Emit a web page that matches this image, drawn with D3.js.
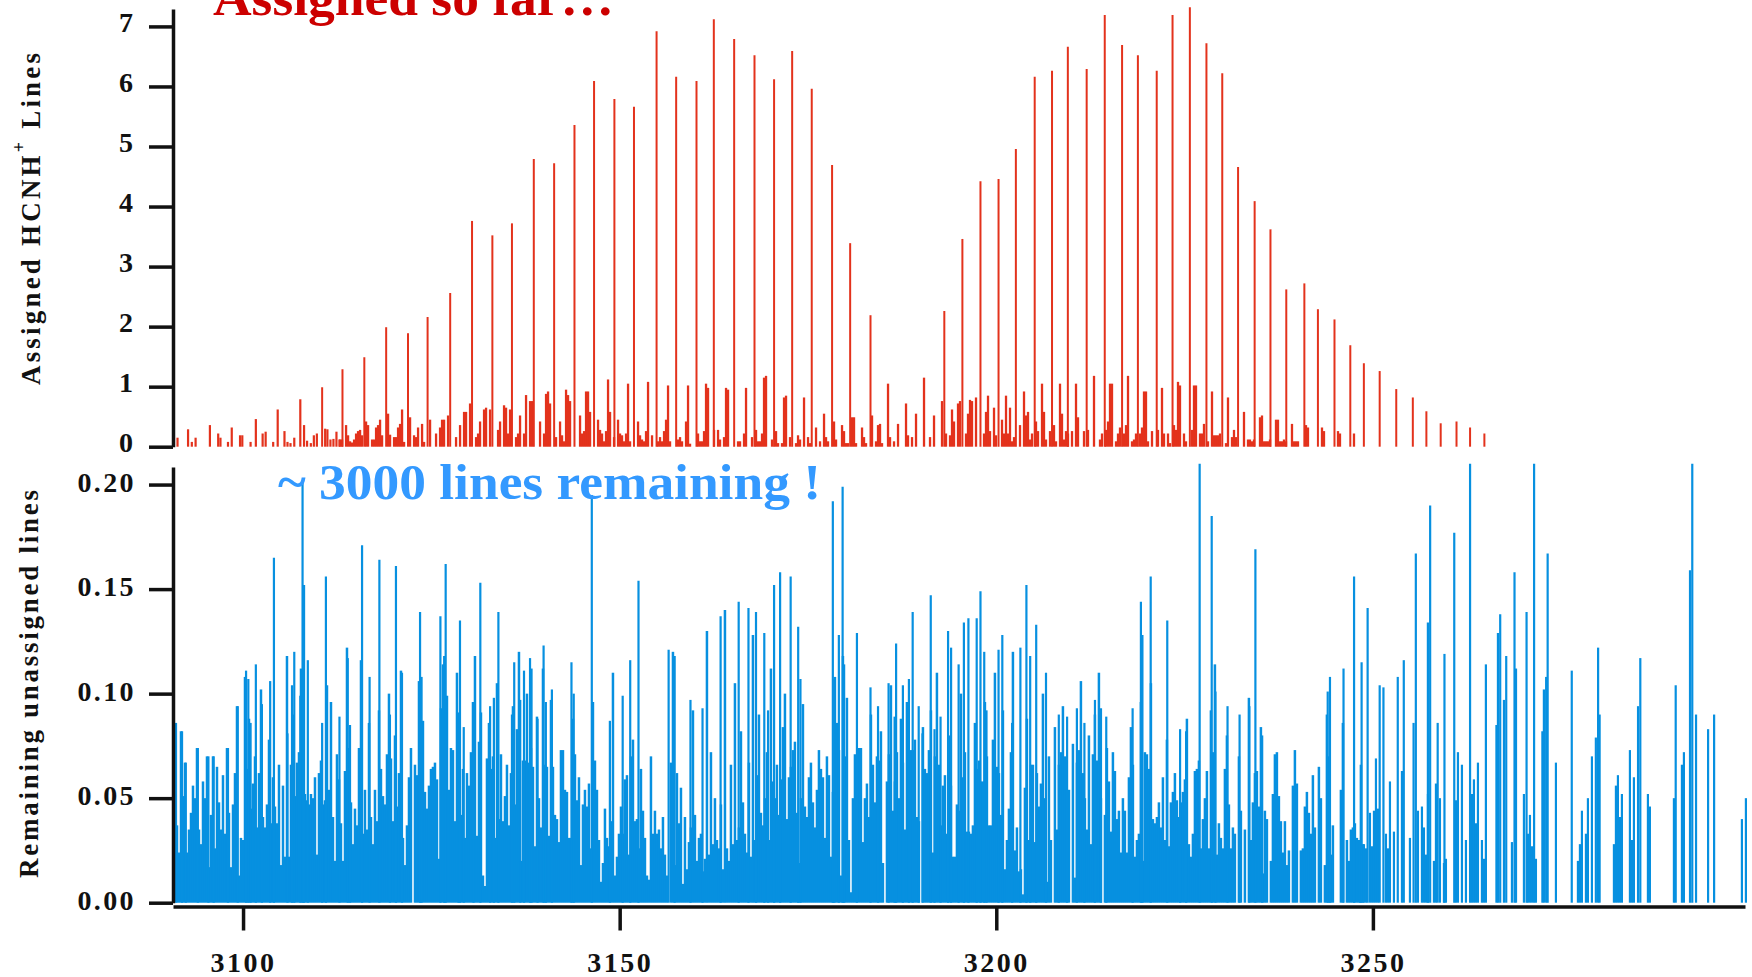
<!DOCTYPE html>
<html>
<head>
<meta charset="utf-8">
<script src="https://cdn.jsdelivr.net/npm/d3@7"></script>
<style>
  html, body { margin: 0; padding: 0; background: #fff; overflow: hidden; }
  text { font-family: "Liberation Serif", serif; font-weight: bold; fill: #111; }
</style>
</head>
<body>
<div id="chart"></div>
<script>
// assigned lines, the strong ladder
const strongX = [3110.5,3113.2,3116.1,3119,3121.9,3124.5,3127.5,3130.4,3133.1,3135.7,3138.6,3141.3,3144,3146.6,3149.3,3151.9,3154.9,3157.5,3160.2,3162.5,3165.2,3167.9,3170.5,3172.9,3175.5,3178.2,3180.6,3183.3,
  3193.1,3195.5,3197.9,3200.3,3202.6,3205.1,3207.4,3209.5,3212,3214.4,3216.7,3218.8,3221.3,3223.4,3225.7,3227.9,3230,3232.1,3234.3,3236.4,3238.5,3240.9,3242.7,3244.9,3247,3248.8,3250.9,3253.1,3255.3,3257.1,3259,3261.1,3262.9,3264.8];
const strongY = [0.99,1.29,1.49,1.99,1.89,2.16,2.56,3.76,3.52,3.72,4.79,4.72,5.36,6.09,5.79,5.66,6.92,6.16,6.09,7.12,6.79,6.52,6.12,6.59,5.96,4.69,3.39,2.19,
  2.26,3.46,4.42,4.46,4.96,6.16,6.26,6.66,6.29,7.19,6.69,6.52,6.26,7.19,7.32,6.72,6.22,4.66,4.09,3.62,2.62,2.72,2.29,2.12,1.69,1.39,1.26,0.96,0.82,0.59,0.39,0.42,0.32,0.22];

// assigned lines, weak ones below 3113
const weakX = [3091.3,3092.7,3093.2,3093.7,3095.6,3096.7,3097,3098,3098.5,3099.6,3099.9,3101,3101.7,3102.6,3103,3104,3104.6,3105.5,3105.9,3106.3,3106.8,3107.6,3108.1,3108.5,3109,3109.4,3109.8,3110.9,3111.2,3111.6,3112,3112.4,3112.8];
const weakY = [0.15,0.29,0.08,0.15,0.36,0.22,0.15,0.08,0.32,0.19,0.19,0.08,0.46,0.22,0.25,0.08,0.62,0.26,0.08,0.06,0.15,0.79,0.36,0.1,0.06,0.19,0.22,0.3,0.29,0.12,0.13,0.25,0.12];

// assigned lines above 3113, given as slot number on the 0.2655 cm-1 read-out grid
const slotStart = 3112.88, slotWidth = 0.2655;
const weakSlot = [0,1,3,4,5,6,7,8,9,10,11,13,14,16,17,18,19,20,21,24,25,27,28,29,30,31,32,35,37,38,39,41,42,45,48,50,51,52,54,58,60,62,63,65,68,69,70,72,73,75,79,80,82,83,84,85,88,89,90,92,93,95,96,100,102,103,104,105,108,110,111,112,113,114,115,120,121,122,123,124,125,129,130,131,132,133,134,135,137,139,140,141,142,143,144,145,149,150,151,152,153,154,156,159,160,161,162,163,164,165,169,170,171,173,174,175,179,180,181,182,183,184,187,189,190,192,193,194,199,
  200,202,203,206,208,209,210,211,212,213,216,218,219,221,222,223,225,228,229,230,232,234,235,238,240,242,243,244,247,248,251,252,253,254,256,257,258,261,262,263,266,268,269,270,271,274,275,277,279,283,284,286,288,292,295,297,301,303,305,306,307,309,310,313,314,315,316,318,322,323,324,325,327,328,331,332,333,334,335,336,337,340,342,343,344,345,346,348,349,351,352,353,355,357,358,360,361,362,363,364,366,368,369,372,374,377,
  380,381,383,384,385,386,388,389,390,392,393,394,396,397,398,400,401,402,403,404,406,409,411,412,414,415,417,418,419,420,422,423,426,427,428,430,431,432,434,436,437,438,439,440,443,444,446,447,448,452,454,455,456,457,460,461,462,463,464,465,468,469,470,471,472,473,476,477,478,479,483,484,491,492,499,500,507];
const weakLevel = [.12,.12,.36,.19,.09,.07,.12,.22,.26,.28,.19,.42,.36,.12,.12,.32,.36,.45,.19,.55,.2,.16,.16,.32,.38,.62,.08,.49,.19,.16,.32,.38,.08,.45,.22,.32,.45,.45,.52,.16,.36,.58,.58,.72,.16,.22,.42,.62,.65,.62,.28,.42,.69,.65,.22,.62,.16,.22,.52,.22,.86,.76,.76,.42,.22,.88,.92,.72,.16,.42,.19,.09,.95,.86,.76,.52,.22,.26,.92,.92,.58,.45,.28,.22,.09,.26,1.12,.58,.16,.45,.22,.19,.09,.22,1.05,.09,.42,.19,.12,.09,.26,1.08,.19,.09,.16,.09,.26,.45,1.02,.09,.12,.16,.09,.42,1.02,.05,.22,.09,.09,.26,1.05,.98,.28,.28,.12,.16,.98,.95,.09,
  .09,.22,.98,.16,.28,.09,.09,.22,1.15,1.18,.12,.26,.06,.06,.82,.85,.16,.06,.19,.12,.82,.16,.06,.32,.09,.55,.16,.09,.42,.12,.36,.26,.06,.06,.49,.49,.06,.32,.16,.06,.52,.09,.36,.38,.06,1.05,.16,.09,.38,.72,.19,.16,.55,1.15,.16,.52,.76,.22,.19,.62,.42,.72,.76,.22,.55,.78,.76,.82,.22,.58,.85,.26,.65,.19,.45,.22,.85,.22,.65,.09,.16,.36,.92,.52,.58,.12,.22,.42,.26,1.05,.58,.12,.26,.36,.09,1.05,.55,.12,.26,.22,.26,1.05,.49,.26,.28,1.18,
  .12,.22,.28,.42,1.05,1.05,.09,.22,.32,.22,.36,1.18,.09,.12,.22,.22,.32,.92,.92,.09,.26,.28,.98,.22,.22,.06,.36,.28,1.08,1.02,.22,.09,.28,1.02,1.02,.22,.22,.38,.09,.92,.19,.19,.19,.22,.06,.82,.16,.28,.16,.58,.12,.12,.09,.12,.49,.52,.09,.09,.09,.12,.45,.45,.09,.09,.12,.09,.38,.09,.09,.09,.36,.32,.32,.26,.26,.22,.22];

// remaining lines, the tall ones
const tallX = [3091.1,3091.9,3092.4,3094,3095.4,3096.1,3098,3099.3,3100.4,3100.7,3101,3101.7,3102.5,3103.6,3104.1,3105.9,3106.5,3106.8,3107.6,3107.9,3108.1,3108.6,3110.5,3111,3112.8,3113.9,3114.2,3115.8,3116.8,3118.1,3119.5,3120.3,3121.1,3123.5,3123.7,3126.2,3126.7,3126.9,3128.6,3128.8,3129.3,3130.6,3131.5,3132.8,3133.3,3133.9,3135.7,3136,3136.8,3137.3,3138.1,3138.3,3139.1,3139.9,3140.2,3141,3143.6,3143.9,3146.3,
  3148.7,3150.4,3151.4,3152.5,3156.5,3157.3,3159.4,3161,3163.4,3165.8,3167.1,3168.1,3169.2,3169.7,3170.5,3171.3,3172.7,3173.7,3174,3178.3,3178.5,3179.1,3179.6,3179.8,3181.5,3183.3,3184.3,3185.7,3186.5,3186.7,3187.6,3188.4,3188.9,3189.7,3190.2,3191.3,3191.8,3192.6,3193.6,3194,3195,3195.7,3196.3,3197.4,3197.9,3198.4,3198.7,3200.3,3200.8,3202.1,3203.2,3204,3204.5,3205.3,3206.6,3208.3,3209.4,3210.7,3211.7,3213.1,3213.9,3214.6,3218.1,3219.2,3219.4,3220.5,3222.7,3224.4,3225.2,
  3227,3228.6,3229.1,3230.7,3232.3,3233.6,3234.4,3235.3,3244,3244.3,3246.1,3247.5,3248.5,3249.3,3250.9,3251.4,3253.3,3254.1,3255.4,3255.7,3257.3,3257.6,3258.6,3259.5,3260.8,3262.9,3265,3266.4,3266.6,3266.9,3267.4,3267.7,3268.8,3269,3270.4,3271.4,3272.5,3272.7,3273,3273.2,3276.4,3279.6,3279.9,3280.1,3285.2,3285.5,3290.2,3292.1,3292.4,3292.9,3294.5,3295.3];
const tallY = [0.086,0.082,0.067,0.074,0.07,0.07,0.074,0.094,0.111,0.107,0.086,0.114,0.095,0.106,0.165,0.081,0.104,0.12,0.099,0.202,0.152,0.116,0.086,0.156,0.089,0.117,0.085,0.171,0.108,0.164,0.09,0.161,0.11,0.139,0.108,0.137,0.118,0.162,0.091,0.135,0.084,0.094,0.153,0.094,0.098,0.139,0.09,0.115,0.097,0.111,0.117,0.112,0.088,0.123,0.096,0.102,0.115,0.1,0.195,
  0.087,0.099,0.116,0.154,0.121,0.118,0.097,0.093,0.137,0.144,0.141,0.139,0.129,0.092,0.152,0.158,0.156,0.132,0.107,0.192,0.107,0.128,0.199,0.114,0.129,0.103,0.094,0.105,0.089,0.124,0.104,0.107,0.139,0.094,0.081,0.147,0.083,0.089,0.13,0.122,0.114,0.134,0.136,0.136,0.149,0.12,0.092,0.121,0.128,0.086,0.122,0.152,0.118,0.133,0.11,0.09,0.089,0.093,0.086,0.097,0.093,0.089,0.093,0.144,0.128,0.156,0.135,0.083,0.082,
  0.21,0.185,0.101,0.094,0.09,0.094,0.169,0.08,0.101,0.108,0.112,0.156,0.115,0.141,0.104,0.103,0.108,0.116,0.086,0.167,0.134,0.19,0.086,0.119,0.177,0.21,0.114,0.085,0.129,0.138,0.097,0.118,0.158,0.112,0.139,0.21,0.082,0.102,0.108,0.167,0.111,0.079,0.122,0.09,0.094,0.117,0.104,0.159,0.21,0.09,0.083,0.09];

// remaining lines, foot of the spectrum read column by column, 0.2655 cm-1 apart, in units of 0.001
const footStart = 3091.23, footStep = 0.2655;
const footLevels = [37,24,82,51,67,24,35,43,56,50,74,35,28,58,50,70,17,42,70,26,65,48,35,61,33,74,43,17,47,62,94,13,31,30,108,64,88,45,57,70,36,62,102,41,36,47,78,38,60,46,38,66,18,56,22,118,22,66,90,51,67,72,112,84,52,49,47,52,50,60,23,62,68,47,49,104,54,96,41,20,71,59,38,20,63,122,74,48,28,45,37,74,116,33,54,35,86,41,28,54,39,92,64,51,47,71,100,69,39,80,46,62,111,31,18,37,60,74,0,66,61,106,70,87,53,45,56,64,65,67,59,21,93,114,79,99,54,74,73,39,110,82,42,64,31,62,56,72,96,118,32,77,91,13,8,69,86,64,70,31,105,40,71,39,51,66,37,62,94,47,83,120,20,68,68,100,67,74,65,27,89,50,36,112,66,65,32,97,65,42,40,29,73,73,54,53,31,31,
  88,71,49,60,18,47,54,46,57,26,96,68,54,30,10,19,45,31,27,39,110,13,22,33,46,33,59,61,23,70,78,39,40,26,64,44,31,13,11,70,33,44,33,35,26,41,23,13,0,67,120,18,62,38,55,9,41,16,29,36,92,42,20,31,33,15,21,130,23,72,28,50,30,26,47,16,140,26,20,66,28,105,30,36,82,48,33,24,67,22,128,30,61,90,43,37,50,72,30,112,58,50,66,42,59,84,100,40,60,65,73,77,43,19,50,95,46,41,60,67,48,36,54,73,64,60,31,70,61,22,53,108,86,73,13,118,70,98,30,5,50,71,63,74,74,29,50,57,41,90,66,48,70,68,82,19,0,58,71,104,44,58,72,50,88,67,35,96,73,73,73,78,41,39,0,84,64,62,73,92,24,70,110,66,37,56,61,33,80,56,22,22,47,44,100,60,72,34,34,
  33,37,86,64,68,58,58,96,70,37,37,78,110,65,62,42,92,16,30,45,72,120,25,36,15,16,4,55,88,30,66,66,29,62,46,57,100,50,10,70,30,0,84,35,66,72,94,70,54,54,0,76,12,67,73,106,62,50,35,80,28,71,90,68,110,50,0,42,74,58,34,72,63,40,44,24,50,44,24,60,84,66,22,30,33,96,20,72,71,64,105,40,38,41,48,36,60,30,78,27,48,53,62,49,41,48,53,59,88,28,22,33,63,64,68,26,40,50,63,26,92,72,114,23,38,31,26,64,80,47,26,36,33,0,70,44,0,35,0,98,30,48,62,63,46,84,14,44,40,0,20,52,71,72,51,39,24,39,18,25,0,56,73,57,0,25,26,46,53,43,33,61,36,0,65,50,0,18,90,70,23,37,0,0,0,54,86,0,30,20,35,36,38,31,30,66,28];

// remaining lines above 3248, slot number from 3248.28 at the same spacing, level in units of 0.001
const rightStart = 3248.28;
const rightSlot = [0,2,3,5,6,7,8,9,13,14,15,17,21,25,29,31,32,33,34,37,38,40,42,43,48,49,51,53,56,57,58,59,61,62,76,82,84,85,86,88,98,109,110,111,113,114,116,127,128,129,130,131,135,136,137,144,145,157,161,162,191,193];
const rightLevel = [30,28,26,43,27,44,69,45,33,26,58,34,63,31,44,46,36,23,52,20,57,50,19,21,49,72,66,30,52,59,38,67,30,21,29,52,33,42,27,21,67,20,28,44,33,50,70,28,56,61,41,52,73,30,60,52,46,50,66,72,40,50];

const xTicks = [3100, 3150, 3200, 3250];
const topTicks = [0, 1, 2, 3, 4, 5, 6, 7];
const bottomTicks = [0, 0.05, 0.1, 0.15, 0.2];

const width = 1752, height = 977;
const inkColor = "#111";
const axisX = 173;

const svg = d3.select("#chart").append("svg")
  .attr("width", width).attr("height", height);

// scales
const xScale = d3.scaleLinear().domain([3090.7, 3299.4]).range([axisX, 1745]);
const yTop = d3.scaleLinear().domain([0, 7.29]).range([446.7, 9]);
const yBottom = d3.scaleLinear().domain([0, 0.2084]).range([902.7, 467]);

// sticks, every line goes from zero up to its value
function drawSticks(xs, ys, yScale, color, lineWidth) {
  svg.append("g").selectAll("line")
    .data(xs.map((d, i) => [d, ys[i]]))
    .enter().append("line")
      .attr("x1", d => xScale(d[0]))
      .attr("x2", d => xScale(d[0]))
      .attr("y1", yScale(0))
      .attr("y2", d => yScale(d[1]))
      .attr("stroke", color)
      .attr("stroke-width", lineWidth);
}

const blue = "#0790e0", red = "#e3321c";

drawSticks(footLevels.map((d, i) => footStart + i * footStep), footLevels.map(d => d / 1000), yBottom, blue, 2.5);
drawSticks(rightSlot.map(d => rightStart + d * footStep), rightLevel.map(d => d / 1000), yBottom, blue, 2.2);
drawSticks(tallX, tallY, yBottom, blue, 2.2);
drawSticks(weakX, weakY, yTop, red, 2.2);
drawSticks(weakSlot.map(d => slotStart + d * slotWidth), weakLevel, yTop, red, 2.3);
drawSticks(strongX, strongY, yTop, red, 2);

// axes
function styleAxis(g, fontSize, spacing) {
  g.selectAll(".domain").attr("stroke", inkColor).attr("stroke-width", 3.5);
  g.selectAll(".tick line").attr("stroke", inkColor).attr("stroke-width", 3.5);
  g.selectAll("text")
    .attr("font-family", null).attr("font-size", null)
    .style("font-size", fontSize + "px")
    .style("letter-spacing", spacing + "px");
}

const topAxis = svg.append("g").attr("transform", `translate(${axisX},0)`)
  .call(d3.axisLeft(yTop).tickValues(topTicks).tickFormat(d3.format("d")).tickSize(24).tickSizeOuter(0).tickPadding(16));
styleAxis(topAxis, 28, 0);
topAxis.selectAll("text").attr("dy", "0.17em");

const bottomAxis = svg.append("g").attr("transform", `translate(${axisX},0)`)
  .call(d3.axisLeft(yBottom).tickValues(bottomTicks).tickFormat(d3.format(".2f")).tickSize(24).tickSizeOuter(0).tickPadding(13));
styleAxis(bottomAxis, 28, 2.4);
bottomAxis.selectAll("text").attr("dy", "0.24em");

const xAxis = svg.append("g").attr("transform", "translate(0,906.5)")
  .call(d3.axisBottom(xScale).tickValues(xTicks).tickFormat(d3.format("d")).tickSize(24).tickSizeOuter(0).tickPadding(18));
styleAxis(xAxis, 28, 2.5);
xAxis.selectAll("text").attr("dy", "0.85em");

// titles
svg.append("text").attr("x", 213).attr("y", 15)
  .attr("textLength", 401).attr("lengthAdjust", "spacingAndGlyphs")
  .style("font-size", "50px").style("fill", "#cc0000")
  .text("Assigned so far\u2026");

svg.append("text").attr("x", 278).attr("y", 499)
  .attr("textLength", 543).attr("lengthAdjust", "spacingAndGlyphs")
  .style("font-size", "50px").style("fill", "#3399ff")
  .text("~ 3000 lines remaining !");

// y axis labels
const topLabel = svg.append("text")
  .attr("transform", "translate(40,385) rotate(-90)")
  .attr("textLength", 332).attr("lengthAdjust", "spacing")
  .style("font-size", "27px");
topLabel.append("tspan").text("Assigned HCNH");
topLabel.append("tspan").attr("dy", -15).style("font-size", "18px").text("+");
topLabel.append("tspan").attr("dy", 15).text(" Lines");

svg.append("text")
  .attr("transform", "translate(38,878) rotate(-90)")
  .attr("textLength", 388).attr("lengthAdjust", "spacing")
  .style("font-size", "27px")
  .text("Remaining unassigned lines");
</script>
</body>
</html>
